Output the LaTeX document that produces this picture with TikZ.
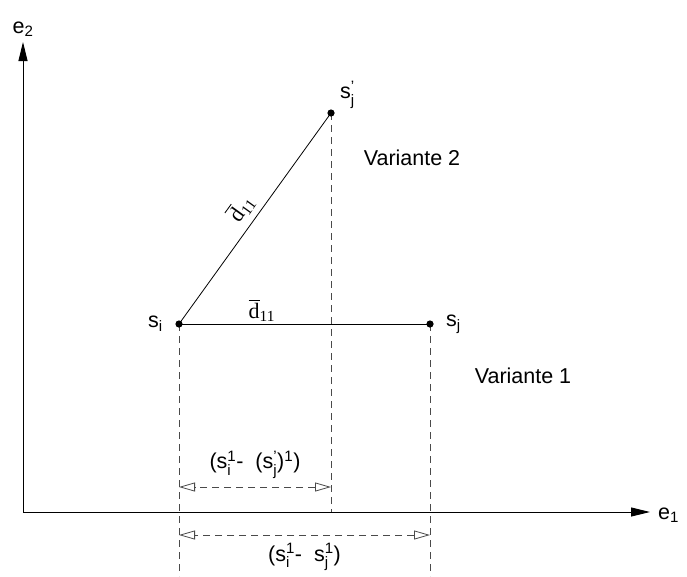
\documentclass[tikz,border=0pt]{standalone}
\usepackage{amsmath}
\usepackage{fontspec}
\setmainfont{Liberation Sans}
\newfontfamily\dfont{Liberation Serif}
\usepackage{tikz}
\usetikzlibrary{positioning,arrows.meta,calc}
\definecolor{ink}{HTML}{000000}
\definecolor{guidegray}{HTML}{4A4A4A}
\newcommand\supsub[2]{\ensuremath{^{\text{#1}}_{\text{#2}}}}
\newcommand\dbar{{\dfont$\overline{\text{d}}_{\text{11}}$}}
\tikzset{
  axis/.style={-{Triangle[length=19pt,width=9pt]}, line width=0.9pt, color=ink},
  vec/.style={line width=0.8pt, color=ink},
  guide/.style={dash pattern=on 7pt off 5pt, line width=0.8pt, color=guidegray},
  dim/.style={guide, {Triangle[open,length=16pt,width=9pt]}-{Triangle[open,length=16pt,width=9pt]}},
  lbl/.style={font=\fontsize{21.5}{24}\selectfont, text=ink, inner sep=0pt},
  dlab/.style={font=\fontsize{22}{24}\selectfont, text=ink, inner sep=1pt},
}
\begin{document}
\begin{tikzpicture}[x=1pt,y=-1pt]
  \useasboundingbox (0,0) rectangle (687,576);
  % axes
  \coordinate (O) at (23,512);
  \coordinate (e1tip) at (650,512);
  \coordinate (e2tip) at (23,42);
  \draw[axis] (O) -- (e1tip);
  \draw[axis] (O) -- (e2tip);
  \node[lbl, right=8pt of e1tip, yshift=-3pt] (e1) {e\textsubscript{1}};
  \node[lbl, above=5pt of e2tip] (e2) {e\textsubscript{2}};
  % points
  \coordinate (si) at (179,324);
  \coordinate (sj) at (430,324);
  \coordinate (sjp) at (331,113);
  % guides down to the axis
  \coordinate (siB) at (179,576);
  \coordinate (sjB) at (430,576);
  \coordinate (sjpB) at (331,512);
  \draw[guide] (si) -- (siB);
  \draw[guide] (sj) -- (sjB);
  \draw[guide] (sjp) -- (sjpB);
  % the two variants
  \draw[vec] (si) -- (sj) node[dlab, pos=0.33, above=1pt] (dh) {\dbar};
  \draw[vec] (si) -- (sjp) node[dlab, midway, sloped, above=5pt] (dd) {\dbar};
  \foreach \p in {si,sj,sjp} \fill[ink] (\p) circle (3.6pt);
  \node[lbl, left=16pt of si] (lsi) {s\textsubscript{i}};
  \node[lbl, right=16pt of sj] (lsj) {s\textsubscript{j}};
  \node[lbl, above right=4pt and 9pt of sjp] (lsjp) {s\supsub{'}{j}};
  \node[lbl] (v2) at (412,158) {Variante 2};
  \node[lbl] (v1) at (523,376) {Variante 1};
  % dimensions
  \coordinate (dAl) at (179,487);
  \coordinate (dAr) at (331,487);
  \coordinate (dBl) at (179,535);
  \coordinate (dBr) at (430,535);
  \draw[dim] (dAr) -- (dAl);
  \draw[dim] (dBr) -- (dBl);
  \node[lbl, above=8pt of {$(dAl)!0.5!(dAr)$}] (la) {(s\supsub{1}{i}- \ (s\supsub{'}{j})\textsuperscript{1})};
  \node[lbl, below=8pt of {$(dBl)!0.5!(dBr)$}] (lb) {(s\supsub{1}{i}- \ s\supsub{1}{j})};
\end{tikzpicture}
\end{document}
